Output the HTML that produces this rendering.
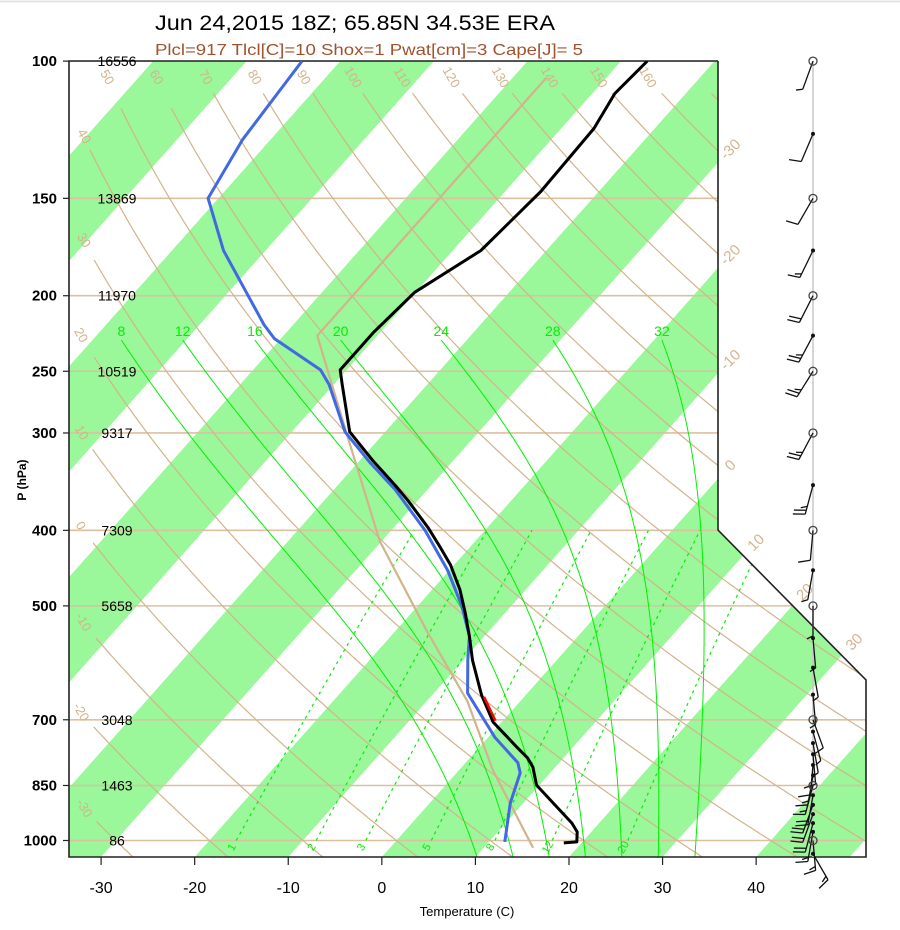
<!DOCTYPE html>
<html><head><meta charset="utf-8">
<style>
body{margin:0;background:#fff}
svg{display:block}
text{font-family:"Liberation Sans",Arial,sans-serif}
</style></head>
<body>
<svg id="chart" width="900" height="930" viewBox="0 0 900 930" xmlns="http://www.w3.org/2000/svg">
<defs><clipPath id="plotClip"><polygon points="69,61 718,61 718,530 866,680 866,857 69,857"/></clipPath></defs>
<rect x="0" y="0" width="900" height="930" fill="#fff"/>
<line x1="0" y1="1.5" x2="900" y2="1.5" stroke="#e2e2e2" stroke-width="2"/>
<text x="155" y="30" font-size="21" fill="#000" textLength="400" lengthAdjust="spacingAndGlyphs">Jun 24,2015 18Z; 65.85N 34.53E ERA</text>
<text x="155" y="55" font-size="16" fill="#a0522d" textLength="428" lengthAdjust="spacingAndGlyphs">Plcl=917 Tlcl[C]=10 Shox=1 Pwat[cm]=3 Cape[J]= 5</text>
<text x="467" y="916" font-size="13" text-anchor="middle" fill="#000">Temperature (C)</text>
<text x="0" y="0" font-size="12" font-weight="bold" text-anchor="middle" fill="#000" transform="translate(26,480) rotate(-90)">P (hPa)</text>
<g id="bands" clip-path="url(#plotClip)"></g>
<g id="grid" clip-path="url(#plotClip)"></g>
<g id="labels"></g>
<g id="frame"></g>
<g id="series" clip-path="url(#plotClip)"></g>
<g id="winds"></g>
</svg>
<script>
// ---- data ----
const isobarLevels=[100,150,200,250,300,400,500,700,850,1000];
const heightLabels=["16556","13869","11970","10519","9317","7309","5658","3048","1463","86"];
const tempTicks=[-30,-20,-10,0,10,20,30,40];
const tempP=[1007,1004,975,950,849,805,784,759,705,651,587,547,510,477,443,421,397,366,350,325,299,260,249,223,198,175,147,122,110,100];
const tempT=[18.1,19.4,18.5,17.1,9.7,7.6,6.2,4.0,-0.9,-4.7,-9.0,-11.6,-14.3,-17.0,-20.4,-23.1,-26.3,-31.1,-33.9,-38.7,-43.8,-49.1,-50.7,-50.7,-50.1,-47.0,-46.2,-46.5,-47.6,-47.2];
const dewP=[1004,895,819,795,737,647,587,547,500,450,400,355,327,299,260,249,227,218,175,150,126,100];
const dewT=[11.7,8.6,6.8,5.6,0.7,-6.4,-9.5,-11.6,-15.3,-20.2,-26.4,-33.4,-38.8,-44.3,-50.5,-52.8,-60.7,-63.1,-74.5,-81.1,-83.0,-84.1];
const redP=[654,702];
const redT=[-4.3,-0.8];
const parcelP=[1022,812,662,539,413,301,238,225,105];
const parcelT=[15.3,3.6,-5.7,-16.6,-30.2,-43.9,-54.0,-56.4,-56.4];
const dryThetas=[-30,-20,-10,0,10,20,30,40,50,60,70,80,90,100,110,120,130,140,150,160,170];
const moistThetaW=[8,12,16,20,24,28,32];
const mixRatios=[1,2,3,5,8,12,20];
const isoLabels=[-30,-20,-10,0,10,20,30];
const barbP=[100,124,150,175,200,225,250,300,350,400,450,500,550,600,650,700,725,750,775,800,825,850,875,900,925,950,975,1000,1040];
const barbDir=[200,203,210,206,207,208,212,208,195,185,190,180,175,170,175,160,165,170,175,185,190,195,190,200,200,195,190,175,150];
const barbSpd=[5,10,10,15,20,25,25,25,25,10,5,5,5,5,5,10,5,5,10,10,15,15,20,20,20,20,15,15,15];

// ---- axis functions ----
const NS="http://www.w3.org/2000/svg";
function L(p){return Math.log10(1000/p);}
function py(p){return 840.5-779.4*L(p);}
function px(T,p){return 396.5+9.358*T+692.5*L(p);}
function rightBound(y){return y<=530?718:(y<=680?718+(y-530)*148/150:866);}
function inside(x,y){return x>=69&&y>=61&&y<=857&&x<=rightBound(y);}
function mk(tag,attrs,parent){const e=document.createElementNS(NS,tag);for(const k in attrs)e.setAttribute(k,attrs[k]);parent.appendChild(e);return e;}
const gB=document.getElementById('bands'),gG=document.getElementById('grid'),gL=document.getElementById('labels'),gF=document.getElementById('frame'),gS=document.getElementById('series'),gW=document.getElementById('winds');
const TAN="#dcc0a0",TANL="#d2b48c",LIME="#00f000";

// green bands
for(let T=-140;T<=60;T+=20){
  const pts=[[px(T,1050),857],[px(T+10,1050),857],[px(T+10,100),61],[px(T,100),61]];
  const b=mk('polygon',{points:pts.map(q=>q.join(',')).join(' '),fill:"#9af79a"},gB);
  
  
}
// isobars
isobarLevels.forEach(p=>{
  const y=py(p);
  const l=mk('line',{x1:69,y1:y,x2:rightBound(y),y2:y,stroke:TAN,'stroke-width':1.6},gG);
  
  
});
// dry adiabats
function linePath(pts){return pts.map((q,i)=>(i?'L':'M')+q[0].toFixed(1)+','+q[1].toFixed(1)).join(' ');}
dryThetas.forEach(th=>{
  const pts=[];
  for(let p=1050;p>=100;p-=5){const T=(th+273.15)*Math.pow(p/1000,0.2857)-273.15;pts.push([px(T,p),py(p)]);}
  // find exit (last inside point)
  let last=-1;for(let i=0;i<pts.length;i++){if(inside(pts[i][0],pts[i][1]))last=i;}
  if(last<0)return;
  // trim 34px before exit
  let acc=0,cut=last,lab=null;
  for(let i=last;i>0;i--){acc+=Math.hypot(pts[i][0]-pts[i-1][0],pts[i][1]-pts[i-1][1]);if(!lab&&acc>=16)lab=pts[i-1];if(acc>=36){cut=i-1;break;}}
  const vis=pts.slice(0,cut+1);
  const d=mk('path',{d:linePath(vis),fill:"none",stroke:TANL,'stroke-width':1.2},gG);
  
  
  if(lab&&th<=160){
    const t=mk('text',{x:lab[0],y:lab[1],'font-size':13,fill:TANL,'text-anchor':'middle','dominant-baseline':'middle',transform:`rotate(60 ${lab[0]} ${lab[1]})`},gL);
    t.textContent=String(th);
    
    
  }
});
// moist adiabats
function es(Tk){return 6.112*Math.exp(17.67*(Tk-273.15)/(Tk-29.65));}
function rs(Tk,p){const e=es(Tk);return 0.622*e/(p-e);}
function dTdp(Tk,p){const r=rs(Tk,p);return (287*Tk+2.5e6*r)/(p*(1005+2.5e6*2.5e6*r*0.622/(287*Tk*Tk)));}
moistThetaW.forEach(tw=>{
  const up=[];let T=tw+273.15;
  for(let p=1000;p>=228;p-=2){up.push([px(T-273.15,p),py(p)]);const k1=dTdp(T,p);const k2=dTdp(T-2*k1,p-2);T=T-(k1+k2);}
  const dn=[];T=tw+273.15;
  for(let p=1000;p<=1050;p+=2){dn.unshift([px(T-273.15,p),py(p)]);const k1=dTdp(T,p);T=T+2*k1;}
  const pts=dn.concat(up);
  const d=mk('path',{d:linePath(pts),fill:"none",stroke:LIME,'stroke-width':1},gG);
  
  
  const e=up[up.length-1];
  const t=mk('text',{x:e[0],y:e[1]-4,'font-size':14,fill:LIME,'text-anchor':'middle'},gL);
  t.textContent=String(tw);
  
  
});
// mixing ratio lines
function tForW(w,p){const e=w/1000*p/(0.622+w/1000);const a=Math.log(e/6.112);return 243.5*a/(17.67-a);}
mixRatios.forEach(w=>{
  const pts=[];for(let p=1000;p>=400;p-=10)pts.push([px(tForW(w,p),p),py(p)]);
  const d=mk('path',{d:linePath(pts),fill:"none",stroke:LIME,'stroke-width':1.2,'stroke-dasharray':'3,4'},gG);
  
  
  const x=px(tForW(w,1000),1000)-4,y=py(1000)+7;
  const t=mk('text',{x:x,y:y,'font-size':11,fill:LIME,'text-anchor':'middle','dominant-baseline':'middle',transform:`rotate(-60 ${x} ${y})`},gL);
  t.textContent=String(w);
  
  
});
// isotherm labels on right boundary
isoLabels.forEach(T=>{
  let y=61;for(;y<=857;y+=0.5){const x=396.5+9.358*T+0.8885*(840.5-y);if(x<=rightBound(y))break;}
  const x=rightBound(y)+13,yy=y-13;
  const t=mk('text',{x:x,y:yy,'font-size':15,fill:TANL,'text-anchor':'middle','dominant-baseline':'middle',transform:`rotate(-45 ${x} ${yy})`},gL);
  t.textContent=String(T);
  
  
});
// frame
const fr=mk('polyline',{points:"718,61 69,61 69,857 866,857 866,680 718,530 718,61",fill:"none",stroke:"#222",'stroke-width':1.6},gF);


isobarLevels.forEach((p,i)=>{
  const y=py(p);
  const tk=mk('line',{x1:63,y1:y,x2:69,y2:y,stroke:"#222",'stroke-width':1.2},gF);
  
  
  const t=mk('text',{x:57,y:y+5,'font-size':15,'font-weight':'bold','text-anchor':'end',fill:"#000"},gF);
  t.textContent=String(p);
  
  
  const h=mk('text',{x:117,y:y+5,'font-size':14,'text-anchor':'middle',fill:"#000"},gF);
  h.textContent=heightLabels[i];
  
  
});
tempTicks.forEach(T=>{
  const x=px(T,1050);
  const tk=mk('line',{x1:x,y1:857,x2:x,y2:865,stroke:"#222",'stroke-width':1.2},gF);
  
  
  const t=mk('text',{x:x,y:893,'font-size':16,'text-anchor':'middle',fill:"#000"},gF);
  t.textContent=String(T);
  
  
});
// series
function series(P,Tv){return P.map((p,i)=>[px(Tv[i],p),py(p)]);}
const parc=mk('path',{d:linePath(series(parcelP,parcelT)),fill:"none",stroke:"#d2b48c",'stroke-width':2.2},gS);


const dew=mk('path',{d:linePath(series(dewP,dewT)),fill:"none",stroke:"#4169e1",'stroke-width':3,'stroke-linejoin':'round'},gS);


const tmp=mk('path',{d:linePath(series(tempP,tempT)),fill:"none",stroke:"#000",'stroke-width':3,'stroke-linejoin':'round'},gS);


const red=mk('path',{d:linePath(series(redP,redT)),fill:"none",stroke:"#f00",'stroke-width':2.5},gS);


// wind barbs
const WX=813;
const col=mk('line',{x1:WX,y1:61,x2:WX,y2:857,stroke:"#c8c8c8",'stroke-width':1.5},gW);


barbP.forEach((p,i)=>{
  const y0=py(p),a=barbDir[i]*Math.PI/180;
  const sx=Math.sin(a),sy=-Math.cos(a);
  const len=30,ex=WX+sx*len,ey=y0+sy*len;
  const st=mk('line',{x1:WX,y1:y0,x2:ex,y2:ey,stroke:"#111",'stroke-width':1.3},gW);
  
  
  const b=a+Math.PI/2,bx=Math.sin(b),by=-Math.cos(b);
  let s=barbSpd[i],k=0;
  while(s>=5){
    const full=s>=10,bl=full?12:6;
    const ox=ex-sx*k*4,oy=ey-sy*k*4;
    const bb=mk('line',{x1:ox,y1:oy,x2:ox+bx*bl+sx*3,y2:oy+by*bl+sy*3,stroke:"#111",'stroke-width':1.3},gW);
    
    
    s-=full?10:5;k++;
  }
  const mand=isobarLevels.indexOf(p)>=0;
  const m=mk('circle',mand?{cx:WX,cy:y0,r:4,fill:"none",stroke:"#444",'stroke-width':1.3}:{cx:WX,cy:y0,r:2,fill:"#111"},gW);
  
  
});
</script>
</body></html>
